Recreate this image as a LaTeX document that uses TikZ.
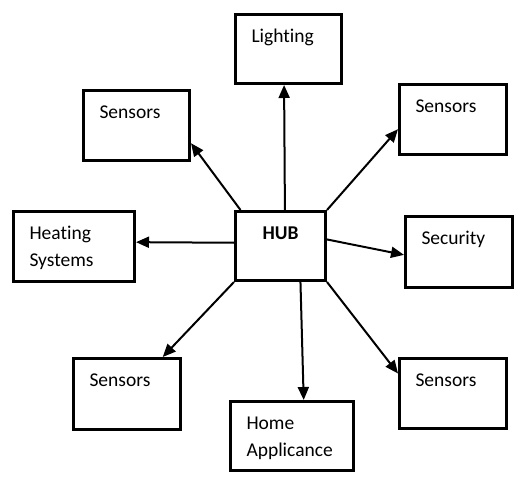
\documentclass[tikz,border=0pt]{standalone}
\usepackage{fontspec}
\setmainfont{Carlito}[Ligatures=NoCommon]
\usetikzlibrary{arrows.meta}

\begin{document}
\begin{tikzpicture}[x=1pt,y=-1pt,>={Triangle[length=13pt,width=11pt]},line width=2pt,
  blk/.style={draw,line width=3pt,anchor=north west,inner xsep=16pt,inner ysep=0pt,
    text width=75pt,text height=28pt,text depth=42pt,align=left,
    font=\fontsize{19.5}{27}\selectfont}]

\useasboundingbox (0,0) rectangle (522,487);

\node[blk,text width=74pt,text depth=41pt]   (light) at (234,13)   {Lighting};
\node[blk,text width=74pt]   (stl) at (82,89)     {Sensors};
\node[blk]   (str) at (398,83)     {Sensors};
\node[blk,text width=89pt]   (heat) at (12,210)   {Heating\\Systems};
\node[blk,text width=58pt,text depth=41pt,align=center,font=\fontsize{19.5}{27}\selectfont\bfseries]   (hub) at (234,210)   {HUB};
\node[blk,text depth=43pt]   (sec) at (404,215)   {Security};
\node[blk,text depth=43pt]   (sbl) at (72,357)    {Sensors};
\node[blk,text width=91pt,text depth=41pt]   (home) at (229,400)   {Home\\Applicance};
\node[blk]   (sbr) at (398,357)   {Sensors};

	\path[->] (hub.83)  edge 	(light.263)
			(hub.138)  edge 	(stl.342)
			(hub.north east)  edge 	(str.190)
			(hub.176)  edge 	(heat.4)
			(hub.8)  edge 	(sec.183)
			(hub.south west)  edge 	(sbl.46)
			(hub.299)  edge 	(home.72)
			(hub.south east)  edge 	(sbr.160);

\end{tikzpicture}
\end{document}
